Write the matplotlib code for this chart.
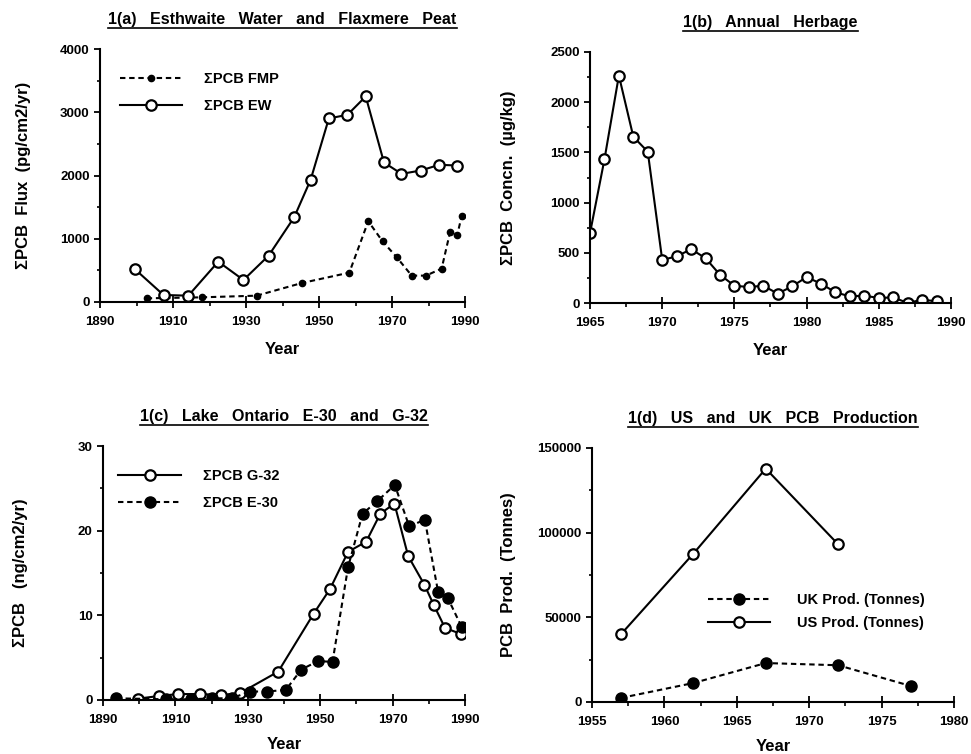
import matplotlib
matplotlib.use("Agg")
import matplotlib.pyplot as plt
from matplotlib.ticker import MultipleLocator, FixedLocator
from matplotlib.lines import Line2D

plt.rcParams['font.family'] = ['Liberation Sans', 'DejaVu Sans']
plt.rcParams['font.weight'] = 'bold'

# ---- Panel (a) Esthwaite Water and Flaxmere Peat ----
ew_year = [1899.6, 1907.4, 1914.2, 1922.4, 1929.3, 1936.2, 1943.2, 1947.7, 1952.7,
           1957.8, 1962.8, 1967.8, 1972.6, 1977.9, 1982.9, 1987.9]
ew_flux = [517, 111, 100, 638, 348, 733, 1340, 1931, 2902, 2960, 3250, 2206, 2026,
           2079, 2169, 2158]
fmp_year = [1902.8, 1917.9, 1932.9, 1945.3, 1958.3, 1963.5, 1967.4, 1971.3, 1975.4,
            1979.3, 1983.6, 1985.9, 1987.9, 1989.1]
fmp_flux = [58, 74, 100, 300, 464, 1277, 960, 707, 417, 417, 528, 1103, 1066, 1361]

# ---- Panel (b) Annual Herbage ----
herb_year = list(range(1965, 1990))
herb_conc = [695, 1430, 2265, 1656, 1507, 430, 464, 536, 447, 281, 172, 159, 172, 93,
             166, 258, 192, 106, 66, 73, 50, 56, 0, 33, 17]

# ---- Panel (c) Lake Ontario E-30 and G-32 ----
g32_year = [1899.7, 1905.4, 1910.6, 1916.7, 1922.7, 1927.8, 1938.4, 1948.2, 1952.7,
            1957.7, 1962.7, 1966.6, 1970.5, 1974.3, 1978.8, 1981.4, 1984.5, 1988.9]
g32_val = [0.16, 0.47, 0.7, 0.7, 0.6, 0.8, 3.35, 10.2, 13.1, 17.5, 18.7, 22.0, 23.2,
           17.0, 13.6, 11.2, 8.5, 7.8]
e30_year = [1893.7, 1907.5, 1914.2, 1920.2, 1925.5, 1930.6, 1935.4, 1940.5, 1944.8,
            1949.4, 1953.4, 1957.7, 1961.7, 1965.8, 1970.6, 1974.6, 1978.9, 1982.6,
            1985.3, 1989.1]
e30_val = [0.2, 0.08, 0.08, 0.2, 0.2, 1.0, 1.0, 1.2, 3.6, 4.6, 4.5, 15.7, 22.0, 23.5,
           25.4, 20.5, 21.3, 12.7, 12.0, 8.6]

# ---- Panel (d) US and UK PCB Production ----
us_year = [1957, 1962, 1967, 1972]
us_prod = [40000, 87600, 137800, 93100]
uk_year = [1957, 1962, 1967, 1972, 1977]
uk_prod = [2400, 11200, 23000, 21700, 9500]

W, H = 971, 754
fig = plt.figure(figsize=(W / 100, H / 100), dpi=100)

def add_ax(l, r, t, b):
    return fig.add_axes([l / W, 1 - b / H, (r - l) / W, (b - t) / H])

axa = add_ax(100, 465, 49, 302)
axb = add_ax(590, 951, 52, 303)
axc = add_ax(103, 465, 446, 700)
axd = add_ax(592, 954, 448, 702)

lw = 1.5
dash = (0, (2.6, 1.8))
open_kw = dict(marker='o', mfc='white', mec='black', mew=1.6, color='black', lw=lw, ls='-')
filled_kw = dict(marker='o', mfc='black', mec='black', color='black', lw=lw, ls=dash)
leg_kw = dict(frameon=False, handlelength=4.3, handletextpad=1.5, fontsize=10.5,
              labelspacing=0.9, loc='upper left')

# (a)
axa.plot(fmp_year, fmp_flux, ms=4.5, label='ΣPCB FMP', **filled_kw)
axa.plot(ew_year, ew_flux, ms=7.5, label='ΣPCB EW', **open_kw)
axa.set_xlim(1890, 1990)
axa.set_ylim(0, 4000)
axa.xaxis.set_major_locator(FixedLocator([1890, 1910, 1930, 1950, 1970, 1990]))
axa.xaxis.set_minor_locator(MultipleLocator(10))
axa.yaxis.set_major_locator(MultipleLocator(1000))
axa.yaxis.set_minor_locator(MultipleLocator(500))
axa.set_ylabel('ΣPCB  Flux  (pg/cm2/yr)')
axa.set_title('1(a)   Esthwaite   Water   and   Flaxmere   Peat')
axa.legend(bbox_to_anchor=(0.018, 0.96), **leg_kw)

# (b)
axb.plot(herb_year, herb_conc, ms=7.5, **open_kw)
axb.set_xlim(1965, 1990)
axb.set_ylim(0, 2500)
axb.xaxis.set_major_locator(MultipleLocator(5))
axb.xaxis.set_minor_locator(MultipleLocator(2.5))
axb.yaxis.set_major_locator(MultipleLocator(500))
axb.yaxis.set_minor_locator(MultipleLocator(250))
axb.set_ylabel('ΣPCB  Concn.  (µg/kg)')
axb.set_title('1(b)   Annual   Herbage')

# (c)
axc.plot(g32_year, g32_val, ms=7.5, label='ΣPCB G-32', **open_kw)
axc.plot(e30_year, e30_val, ms=8, label='ΣPCB E-30', **filled_kw)
axc.set_xlim(1890, 1990)
axc.set_ylim(0, 30)
axc.xaxis.set_major_locator(FixedLocator([1890, 1910, 1930, 1950, 1970, 1990]))
axc.xaxis.set_minor_locator(MultipleLocator(10))
axc.yaxis.set_major_locator(MultipleLocator(10))
axc.yaxis.set_minor_locator(MultipleLocator(5))
axc.set_ylabel('ΣPCB   (ng/cm2/yr)')
axc.set_title('1(c)   Lake   Ontario   E-30   and   G-32')
axc.legend(bbox_to_anchor=(0.006, 0.96), **leg_kw)

# (d)
axd.plot(uk_year, uk_prod, ms=8, label='UK Prod. (Tonnes)', **filled_kw)
axd.plot(us_year, us_prod, ms=7.5, label='US Prod. (Tonnes)', **open_kw)
axd.set_xlim(1955, 1980)
axd.set_ylim(0, 150000)
axd.xaxis.set_major_locator(MultipleLocator(5))
axd.xaxis.set_minor_locator(MultipleLocator(2.5))
axd.yaxis.set_major_locator(MultipleLocator(50000))
axd.yaxis.set_minor_locator(MultipleLocator(25000))
axd.set_ylabel('PCB  Prod.  (Tonnes)')
axd.set_title('1(d)   US   and   UK   PCB   Production')
d_kw = dict(leg_kw)
d_kw['labelspacing'] = 0.6
d_kw['handletextpad'] = 1.8
axd.legend(bbox_to_anchor=(0.283, 0.48), **d_kw)

for ax in (axa, axb, axc, axd):
    ax.spines['top'].set_visible(False)
    ax.spines['right'].set_visible(False)
    ax.spines['left'].set_linewidth(1.5)
    ax.spines['bottom'].set_linewidth(1.5)
    ax.yaxis.label.set_fontsize(12)
    ax.yaxis.label.set_fontweight('bold')
    ax.tick_params(axis='x', which='major', direction='inout', length=8, width=1.3,
                   labelsize=9.5, pad=6)
    ax.tick_params(axis='x', which='minor', direction='out', length=3, width=1.2)
    ax.tick_params(axis='y', which='major', direction='out', length=4, width=1.3,
                   labelsize=9.5)
    ax.tick_params(axis='y', which='minor', direction='out', length=2.5, width=1.2)
    ax.set_title(ax.get_title(), pad=18, fontsize=11.5, fontweight='bold')
    for lbl in ax.get_xticklabels() + ax.get_yticklabels():
        lbl.set_fontweight('bold')

for ax in (axa, axb):
    ax.set_xlabel('Year', fontsize=12, fontweight='bold', labelpad=10)
for ax in (axc, axd):
    ax.set_xlabel('Year', fontsize=12, fontweight='bold', labelpad=8)

axa.yaxis.set_label_coords(-0.19, 0.5)
axb.yaxis.set_label_coords(-0.205, 0.5)
axc.yaxis.set_label_coords(-0.206, 0.5)
axd.yaxis.set_label_coords(-0.21, 0.5)

fig.canvas.draw()
renderer = fig.canvas.get_renderer()
for ax in (axa, axb, axc, axd):
    bb = ax.title.get_window_extent(renderer)
    y = (bb.y0 - 1) / H
    fig.add_artist(Line2D([bb.x0 / W, bb.x1 / W], [y, y], color='black', lw=1.2))

fig.savefig('out.png', dpi=100, facecolor='white')
